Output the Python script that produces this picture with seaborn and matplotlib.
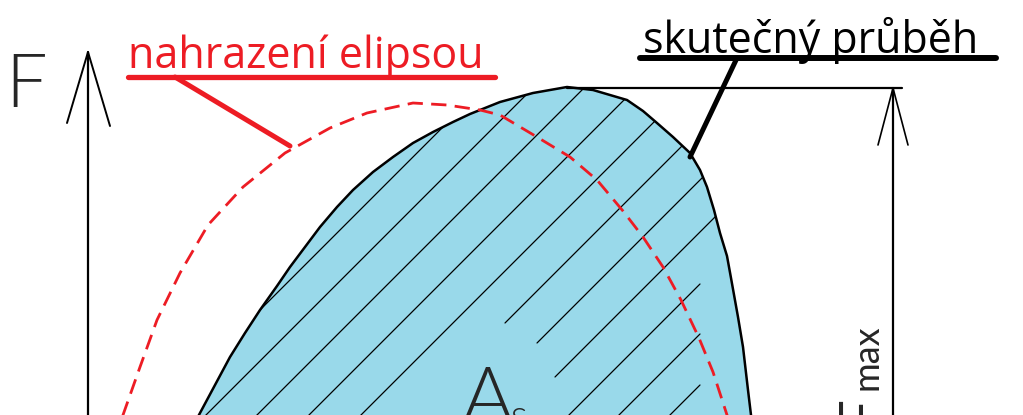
import numpy as np
import seaborn as sns
import matplotlib
matplotlib.use("Agg")
from matplotlib import pyplot as plt

# traced outline of the real force curve (image pixels, y grows downward)
curve_x = [191, 200, 215, 230, 245, 260, 277, 290, 305, 320, 337, 353, 373, 393, 413,
           433, 453, 470, 500, 533, 567, 593, 627, 643, 657, 673, 690, 700, 707, 714,
           720, 727, 731, 738, 743, 748, 751, 753]
curve_y = [430, 413, 385, 357, 333, 310, 286, 267, 247, 227, 207, 190, 172, 157, 143,
           132, 122, 114, 102, 93, 87, 90, 100, 111, 123, 137, 153, 170, 187, 210,
           233, 256, 278, 317, 347, 390, 415, 430]

# traced dashed ellipse that replaces the curve
ellipse_x = [118, 123, 140, 157, 180, 208, 243, 285, 330, 367, 413, 447, 480, 500,
             537, 570, 597, 623, 643, 663, 681, 699, 713, 727, 732]
ellipse_y = [430, 415, 367, 320, 273, 225, 187, 153, 128, 113, 103, 105, 110, 115,
             137, 157, 180, 211, 237, 267, 300, 338, 372, 415, 430]

# hatch lines x + y = c, some start late (gap round the A_s label)
hatch_c = [570, 621, 672, 724, 776, 828, 880, 932, 984, 1034, 1085, 1136]
hatch_x0 = [0, 0, 0, 0, 0, 505, 537, 555, 0, 0, 0, 0]

red = "#ED1C24"
blue = "#99D9EA"

sns.set_theme(style="white")
plt.rcParams['font.family'] = ['Lato', 'DejaVu Sans']

fig = plt.figure(figsize=(10.23, 4.15), dpi=100)
ax = fig.add_axes([0, 0, 1, 1])
ax.set_xlim(0, 1023)
ax.set_ylim(415, 0)
ax.axis('off')

shape = ax.fill(curve_x, curve_y, color=blue, lw=0, zorder=1)[0]
for c, x0 in zip(hatch_c, hatch_x0):
    xs = np.array([x0, x0 + 700])
    ln, = ax.plot(xs, c - xs, color='black', lw=0.9, zorder=2)
    ln.set_clip_path(shape)

sns.lineplot(x=curve_x, y=curve_y, sort=False, estimator=None, color='black',
             lw=1.8, ax=ax, zorder=3)
sns.lineplot(x=ellipse_x, y=ellipse_y, sort=False, estimator=None, color=red,
             lw=2.0, ax=ax, zorder=4)
ax.lines[-1].set_dashes((5.5, 3))

# force axis with open arrow
ax.plot([88, 88], [52, 430], color='black', lw=1.6)
ax.plot([67, 88, 110], [123, 52, 126], color='black', lw=1.4)

# F_max dimension
ax.plot([567, 902], [88, 88], color='black', lw=1.6)
ax.plot([893, 893], [88, 430], color='black', lw=1.6)
ax.plot([878, 893, 908], [145, 88, 145], color='black', lw=1.2)

# labels with underline and leader
ax.plot([128, 495], [77, 77], color=red, lw=3.8, solid_capstyle='round')
ax.plot([175, 290], [77, 146], color=red, lw=3.6, solid_capstyle='round')
ax.text(128, 68, "nahrazení elipsou", color=red, fontsize=31, family=['Open Sans', 'DejaVu Sans'],
        ha='left', va='baseline')

ax.plot([640, 996], [58, 58], color='black', lw=4.3, solid_capstyle='round')
ax.plot([737, 690], [58, 157], color='black', lw=3.6, solid_capstyle='round')
ax.text(643, 53, "skutečný průběh", color='black', fontsize=31, family=['Open Sans', 'DejaVu Sans'],
        ha='left', va='baseline')

ax.text(5, 107, "F", fontsize=53, fontweight=300, ha='left', va='baseline')
ax.text(462, 423, "A", fontsize=57, fontweight=300, ha='left', va='baseline')
ax.text(510, 428, "s", fontsize=28, fontweight=300, ha='left', va='baseline')

ax.text(877, 394, "F", fontsize=42, rotation=90, rotation_mode='anchor',
        ha='right', va='baseline')
ax.text(877, 390, "max", fontsize=26, rotation=90, rotation_mode='anchor',
        ha='left', va='baseline')

fig.savefig("out.png", dpi=100)
